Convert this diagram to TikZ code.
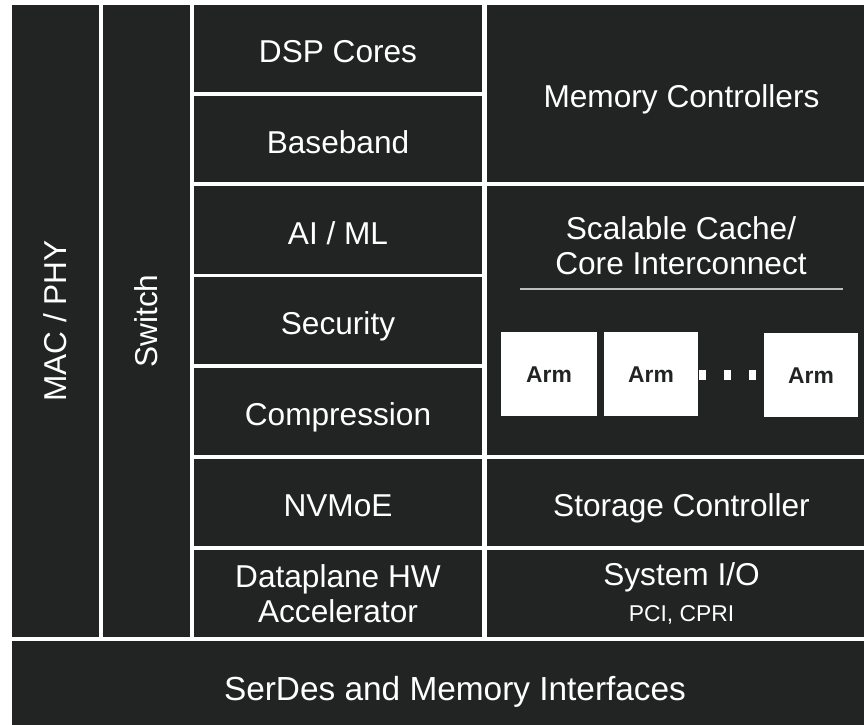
\documentclass[tikz,border=0pt]{standalone}
\usepackage{fontspec}
\setmainfont{Liberation Sans}
\usepackage{xcolor}
\usepackage{tikz}
\usetikzlibrary{positioning}
\definecolor{panel}{RGB}{34,36,36}
\definecolor{rulegray}{RGB}{190,190,190}
\newcommand{\biglbl}{\fontsize{18}{20}\selectfont}
\newcommand{\serlbl}{\fontsize{19}{21}\selectfont}
\newcommand{\sublbl}{\fontsize{13}{15}\selectfont}
\newcommand{\armlbl}{\fontsize{13}{15}\selectfont\bfseries}
\tikzset{box/.style 2 args={minimum width=#1*0.02cm, minimum height=#2*0.02cm}}
\tikzstyle{blk} = [rectangle, fill=panel, draw=none, inner sep=0, text=white, font=\biglbl]
\tikzstyle{one} = [text height=16pt, text depth=0pt]
\tikzstyle{two} = [align=center]
\tikzstyle{txt} = [draw=none, inner sep=0, text=white, font=\biglbl, align=center]
\tikzstyle{arm} = [rectangle, fill=white, draw=none, inner sep=0, text=panel, font=\armlbl, text height=9.3pt, text depth=0pt]

\begin{document}
\begin{tikzpicture}[x=0.02cm, y=-0.02cm]
\path [use as bounding box, clip] (0,0) rectangle (864,724);
% left strips
\node [blk, box={87}{632}] (mac) at (55.5, 321) {};
\node [txt, rotate=90] (macT) at (mac.center) {MAC / PHY};
\node [blk, box={87}{632}] (sw) at (146.5, 321) {};
\node [txt, rotate=90] (swT) at (sw.center) {Switch};
% middle column
\node [blk, one, box={288}{87}] (dsp) at (338, 48.5) {DSP Cores};
\node [blk, one, box={288}{86}] (base) at (338, 139) {Baseband};
\node [blk, one, box={288}{88}] (aiml) at (338, 230) {AI / ML};
\node [blk, one, box={288}{87}] (sec) at (338, 320.5) {Security};
\node [blk, one, box={288}{87}] (comp) at (338, 411.5) {Compression};
\node [blk, one, box={288}{87}] (nvm) at (338, 502.5) {NVMoE};
\node [blk, two, box={288}{87}] (dplane) at (338, 593.5) {Dataplane HW\\Accelerator};
% right column (runs past the edge)
\node [blk, one, box={389}{177}] (memc) at (681.5, 93.5) {Memory Controllers};
\node [blk, box={389}{269}] (cache) at (681.5, 320.5) {};
\node [txt] (cacheT) at (681, 246) {Scalable Cache/\\Core Interconnect};
\draw [rulegray, line width=0.9pt] (520,289) -- (843,289);
\node [arm, box={96}{84}] (arm1) at (549, 374) {Arm};
\node [arm, box={94}{84}] (arm2) at (651, 374) {Arm};
\node [arm, box={94}{84}] (arm3) at (811, 375) {Arm};
\foreach \x in {699,724,749}
  \fill [white] (\x,370) rectangle ++(7,10);
\node [blk, one, box={389}{87}] (stor) at (681.5, 502.5) {Storage Controller};
\node [blk, two, box={389}{87}] (sysio) at (681.5, 593.5) {System I/O\\{\sublbl PCI, CPRI}};
% bottom bar
\node [blk, one, font=\serlbl, box={886}{91}] (serdes) at (455, 686.5) {SerDes and Memory Interfaces};
\end{tikzpicture}
\end{document}
